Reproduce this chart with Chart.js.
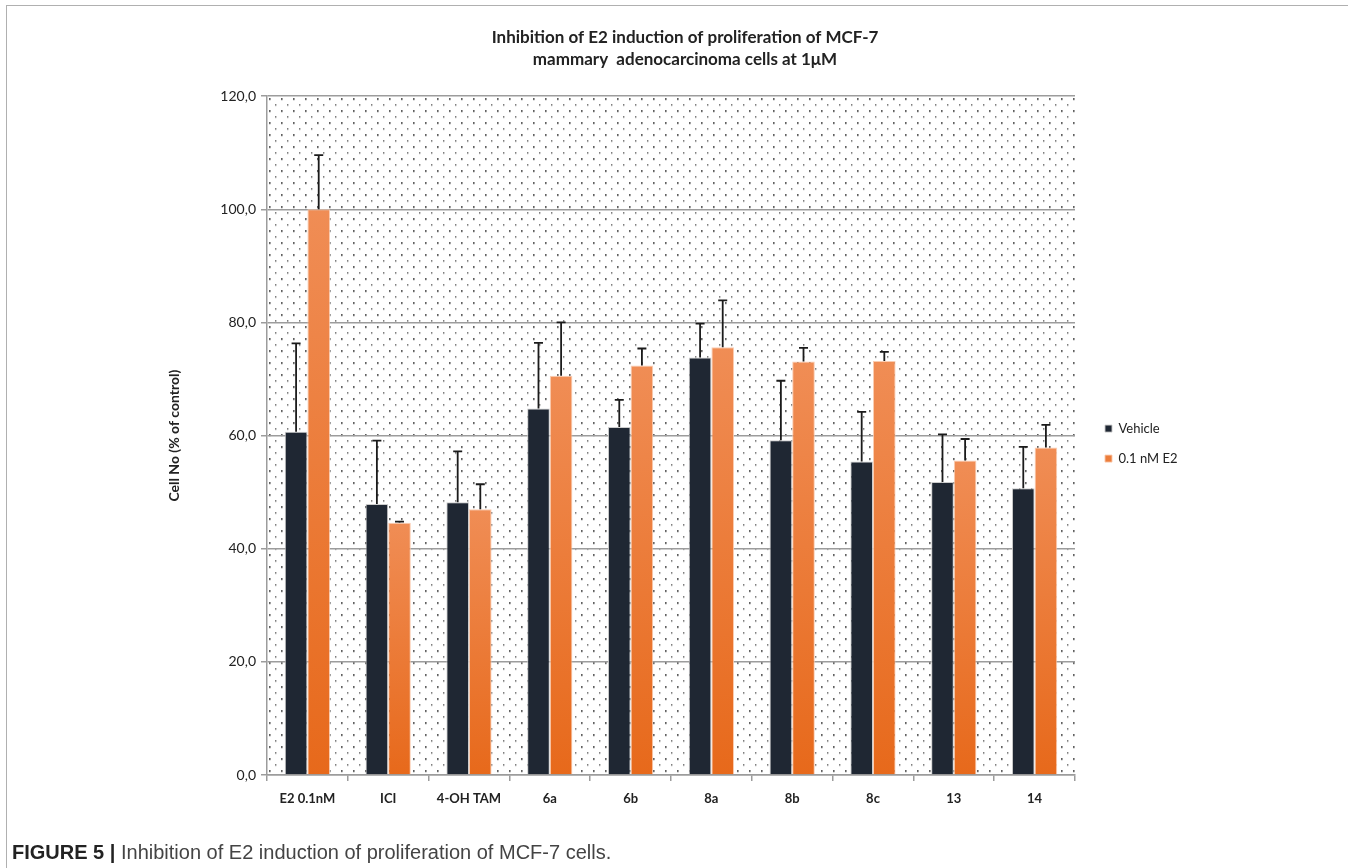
<!DOCTYPE html>
<html><head><meta charset="utf-8">
<script src="https://cdn.jsdelivr.net/npm/chart.js@4.4.1/dist/chart.umd.min.js"></script>
<style>
html,body{margin:0;padding:0;background:#fff;width:1348px;height:868px;overflow:hidden;}
#frame{position:absolute;left:6px;top:5px;width:1342px;height:863px;border-top:1px solid #b0b0b0;border-left:1px solid #b0b0b0;box-sizing:border-box;}
#wrap{position:absolute;left:0;top:0;width:1348px;height:868px;}
#caption{position:absolute;left:12px;top:840px;font-family:"Liberation Sans",Arial,sans-serif;font-size:20px;line-height:24px;color:#444;white-space:nowrap;}
#caption b{color:#222;}
</style></head><body>
<div id="frame"></div>
<div id="wrap"><canvas id="c" width="1348" height="868"></canvas></div>
<div id="caption"><b>FIGURE 5 |</b> Inhibition of E2 induction of proliferation of MCF-7 cells.</div>
<script>
const categories = ["E2 0.1nM", "ICI", "4-OH TAM", "6a", "6b", "8a", "8b", "8c", "13", "14"];
const vehicleValues = [60.7, 47.9, 48.2, 64.8, 61.5, 73.8, 59.2, 55.4, 51.8, 50.7];
const vehicleErrors = [15.6, 11.2, 9.0, 11.6, 4.8, 6.0, 10.5, 8.8, 8.4, 7.3];
const e2Values = [100.0, 44.6, 47.0, 70.6, 72.4, 75.6, 73.1, 73.2, 55.6, 57.9];
const e2Errors = [9.6, 0.2, 4.4, 9.4, 3.0, 8.3, 2.4, 1.6, 3.8, 4.0];
const yTicks = [0, 20, 40, 60, 80, 100, 120];
const seriesLabels = ["Vehicle", "0.1 nM E2"];
const titleLines = ["Inhibition of E2 induction of proliferation of MCF-7", "mammary  adenocarcinoma cells at 1\u03bcM"];
const yTitle = "Cell No (% of control)";

const errorsBySeries = [vehicleErrors, e2Errors];

function makePattern(ctx) {
  const t = document.createElement('canvas');
  t.width = 12; t.height = 12;
  const c = t.getContext('2d');
  c.fillStyle = '#fff'; c.fillRect(0, 0, 12, 12);
  c.fillStyle = '#2a2a2a'; c.fillRect(2, 2, 1.6, 1.6);
  c.fillStyle = '#555'; c.fillRect(8, 8, 1.4, 1.4);
  return ctx.createPattern(t, 'repeat');
}

const bgPlugin = {
  id: 'dots',
  beforeDraw(chart) {
    const {ctx, chartArea: a} = chart;
    if (!a) return;
    ctx.save();
    ctx.translate(a.left, a.top);
    ctx.fillStyle = makePattern(ctx);
    ctx.fillRect(0, 0, a.right - a.left, a.bottom - a.top);
    ctx.restore();
  }
};

const errPlugin = {
  id: 'errbars',
  afterDatasetsDraw(chart) {
    const {ctx, scales: {y}} = chart;
    ctx.save();
    ctx.strokeStyle = '#1b1b1b';
    ctx.lineWidth = 1.8;
    chart.data.datasets.forEach((ds, di) => {
      const meta = chart.getDatasetMeta(di);
      const errs = errorsBySeries[di];
      meta.data.forEach((el, i) => {
        const v = ds.data[i];
        const top = y.getPixelForValue(v + errs[i]);
        const base = y.getPixelForValue(v);
        ctx.beginPath();
        ctx.moveTo(el.x, base);
        ctx.lineTo(el.x, top);
        ctx.moveTo(el.x - 4.5, top);
        ctx.lineTo(el.x + 4.5, top);
        ctx.stroke();
      });
    });
    ctx.restore();
  }
};

const legendPlugin = {
  id: 'legendFix',
  beforeLayout(chart) {
    const lg = chart.legend;
    if (lg && !lg._patched) {
      const f = lg.fit.bind(lg);
      lg.fit = function () { f(); this.width = 265; };
      lg._patched = true;
    }
  },
  afterLayout(chart) {
    const lg = chart.legend;
    if (lg) {
      lg.left += 13; lg.right += 13;
      lg.top += 8; lg.bottom += 8;
    }
  }
};

function orangeFill(ctx) {
  const chart = ctx.chart;
  const {chartArea, scales} = chart;
  if (!chartArea || ctx.type !== 'data' || !scales.y) return '#ec7a33';
  const v = ctx.raw;
  const y0 = scales.y.getPixelForValue(0);
  const y1 = scales.y.getPixelForValue(v);
  const g = chart.ctx.createLinearGradient(0, y1, 0, y0);
  g.addColorStop(0, '#f08d55');
  g.addColorStop(1, '#e7691b');
  return g;
}

Chart.defaults.font.family = 'Lato, "Open Sans", sans-serif';
Chart.defaults.color = '#222';

new Chart(document.getElementById('c'), {
  type: 'bar',
  data: {
    labels: categories,
    datasets: [
      { label: seriesLabels[0], data: vehicleValues, backgroundColor: '#1f2733', borderColor: 'rgba(200,200,200,0.9)', borderWidth: 1, borderSkipped: 'bottom' },
      { label: seriesLabels[1], data: e2Values, backgroundColor: orangeFill, borderColor: 'rgba(250,200,170,0.9)', borderWidth: 1, borderSkipped: 'bottom' }
    ]
  },
  options: {
    responsive: false,
    animation: false,
    devicePixelRatio: 1,
    datasets: { bar: { categoryPercentage: 0.56, barPercentage: 1.0 } },
    layout: { padding: { left: 30, right: 8, top: 10, bottom: 53 } },
    plugins: {
      title: {
        display: true,
        text: titleLines,
        color: '#222',
        font: { size: 17, weight: 'bold', lineHeight: 1.3 },
        padding: { top: 16, bottom: 26 }
      },
      legend: {
        position: 'right',
        fullSize: false,
        align: 'center',
        labels: { boxWidth: 7, boxHeight: 7, padding: 17, font: { size: 13 }, color: '#222' }
      },
      tooltip: { enabled: false }
    },
    scales: {
      x: {
        grid: { display: true, drawOnChartArea: false, drawTicks: true, tickLength: 6, color: '#9c9c9c', lineWidth: 1.5 },
        border: { display: true, color: '#9c9c9c', width: 1.5 },
        ticks: { font: { size: 13, weight: 'bold' }, color: '#222', padding: 10, maxRotation: 0 },
        afterFit(s) { s.height = 40; }
      },
      y: {
        min: 0, max: 120,
        afterBuildTicks(s) { s.ticks = yTicks.map(v => ({ value: v })); },
        ticks: { font: { size: 14 }, color: '#222', padding: 5, callback: v => Number(v).toFixed(1).replace('.', ',') },
        grid: { color: '#9c9c9c', lineWidth: 1.5, tickLength: 6 },
        border: { display: true, color: '#9c9c9c', width: 1.5 },
        title: { display: true, text: yTitle, font: { size: 14, weight: 'bold' }, color: '#222', padding: { top: 136, bottom: 0 } },
        afterFit(s) { s.width = 237; }
      }
    }
  },
  plugins: [bgPlugin, errPlugin, legendPlugin]
});
</script>
</body></html>
